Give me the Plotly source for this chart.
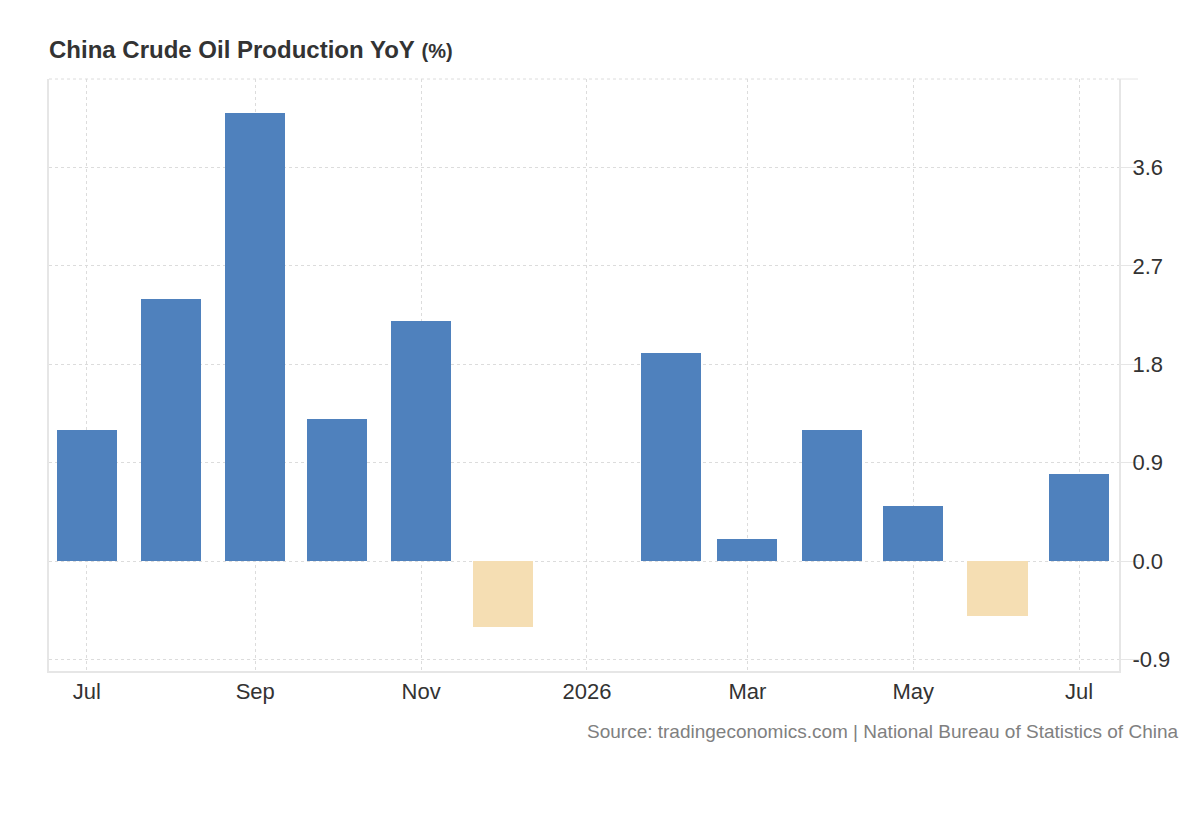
import plotly.graph_objects as go

months = ["2025-07-01", "2025-08-01", "2025-09-01", "2025-10-01", "2025-11-01",
          "2025-12-01", "2026-02-01", "2026-03-01", "2026-04-01", "2026-05-01",
          "2026-06-01", "2026-07-01"]
values = [1.2, 2.4, 4.1, 1.3, 2.2, -0.6, 1.9, 0.2, 1.2, 0.5, -0.5, 0.8]

x_tick_vals = ["2025-07-01", "2025-09-01", "2025-11-01", "2026-01-01",
               "2026-03-01", "2026-05-01", "2026-07-01"]
x_tick_text = ["Jul", "Sep", "Nov", "2026", "Mar", "May", "Jul"]
y_tick_vals = [-0.9, 0.0, 0.9, 1.8, 2.7, 3.6]
y_tick_text = ["-0.9", "0.0", "0.9", "1.8", "2.7", "3.6"]

POS = "#4F81BD"
NEG = "#F5DEB3"
colors = [POS if v >= 0 else NEG for v in values]

DAY_MS = 86400000
fig = go.Figure()
fig.add_trace(go.Bar(
    x=months, y=values, marker_color=colors, marker_line_width=0,
    width=[22.1 * DAY_MS] * len(months), hoverinfo="x+y",
))

GRID = "#dcdcdc"
AXIS = "#e6e6e6"
FONT = "Liberation Sans, Arial, sans-serif"

fig.update_layout(
    width=1184, height=804,
    margin=dict(l=41, r=73, t=71, b=141),
    paper_bgcolor="white", plot_bgcolor="white",
    showlegend=False, bargap=0,
    font=dict(family=FONT, color="#333333"),
    xaxis=dict(
        type="date",
        range=["2025-06-17 03:00", "2026-07-15 17:00"],
        tickvals=x_tick_vals, ticktext=x_tick_text,
        showgrid=True, gridcolor=GRID, griddash="dot", gridwidth=1,
        showline=True, linecolor=AXIS, linewidth=2,
        ticks="", tickfont=dict(size=22, color="#333333"),
        zeroline=False,
    ),
    yaxis=dict(
        side="right",
        range=[-1.006, 4.41],
        tickvals=y_tick_vals, ticktext=y_tick_text,
        showgrid=True, gridcolor=GRID, griddash="dot", gridwidth=1,
        showline=True, linecolor=AXIS, linewidth=2, mirror=True,
        ticks="outside", ticklen=19, tickcolor=AXIS, tickwidth=1,
        ticklabelstandoff=-12,
        tickfont=dict(size=22, color="#333333"),
        zeroline=False,
    ),
    shapes=[
        dict(type="line", xref="paper", yref="paper", x0=0, x1=1, y0=1, y1=1,
             line=dict(color=GRID, width=1, dash="dot")),
        dict(type="line", xref="paper", yref="paper", x0=1, x1=1.0178, y0=1, y1=1,
             line=dict(color=AXIS, width=1)),
    ],
    annotations=[
        dict(xref="paper", yref="paper", x=-0.002, y=1.049, xanchor="left", yanchor="middle",
             showarrow=False,
             text="<b>China Crude Oil Production YoY</b> <b><span style='font-size:20px'>(%)</span></b>",
             font=dict(size=24, color="#333333", family=FONT)),
        dict(xref="paper", yref="paper", x=1.057, y=-0.103, xanchor="right", yanchor="middle",
             showarrow=False,
             text="Source: tradingeconomics.com | National Bureau of Statistics of China",
             font=dict(size=19, color="#808080", family=FONT)),
    ],
)

fig.write_html("out.html")
